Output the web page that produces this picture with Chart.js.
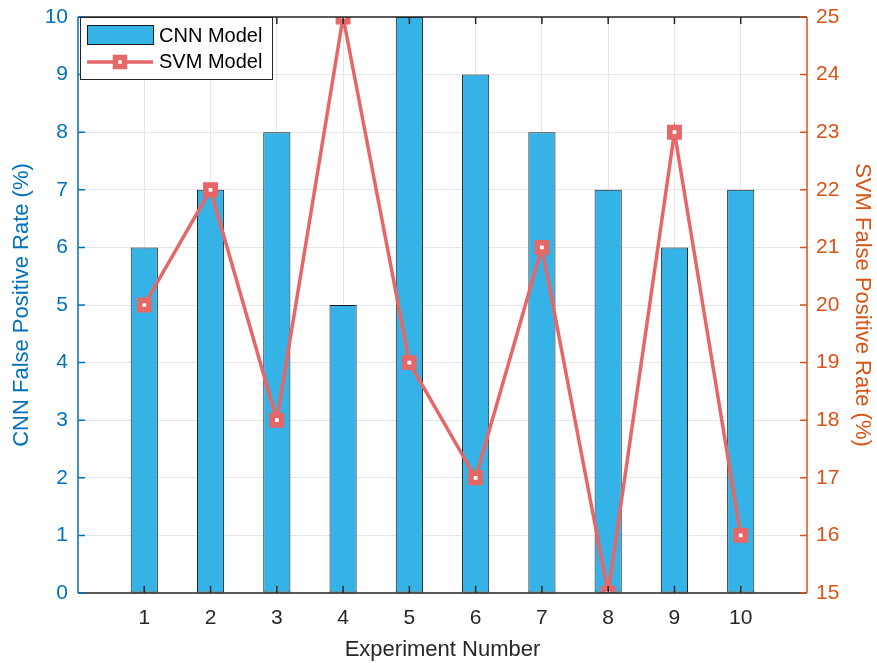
<!DOCTYPE html>
<html>
<head>
<meta charset="utf-8">
<script src="https://cdn.jsdelivr.net/npm/chart.js@4/dist/chart.umd.min.js"></script>
<style>
  html, body { margin: 0; padding: 0; background: #ffffff; }
  #wrap { width: 877px; height: 663px; }
</style>
</head>
<body>
<div id="wrap"><canvas id="c" width="877" height="663"></canvas></div>
<script>
const experiments = [1, 2, 3, 4, 5, 6, 7, 8, 9, 10];
const cnnRate = [6, 7, 8, 5, 10, 9, 8, 7, 6, 7];
const svmRate = [20, 22, 18, 25, 19, 17, 21, 15, 23, 16];
const leftTicks = [0, 1, 2, 3, 4, 5, 6, 7, 8, 9, 10];
const rightTicks = [15, 16, 17, 18, 19, 20, 21, 22, 23, 24, 25];

const BAR = '#35B3E6';
const LINE = '#E66767';
const LEFT = '#0072BD';
const RIGHT = '#D95319';
const DARK = '#262626';
const GRID = '#e4e6ea';
const FONT = '"Liberation Sans", Arial, Helvetica, sans-serif';

const framePlugin = {
  id: 'frame',
  afterDatasetsDraw(chart) {
    const { ctx, chartArea: a, scales } = chart;
    const t = 7;
    ctx.save();
    ctx.lineWidth = 1.5;
    ctx.strokeStyle = DARK;
    ctx.beginPath();
    ctx.moveTo(a.left, a.top); ctx.lineTo(a.right, a.top);
    ctx.moveTo(a.left, a.bottom); ctx.lineTo(a.right, a.bottom);
    experiments.forEach(v => {
      const x = scales.x.getPixelForValue(v);
      ctx.moveTo(x, a.bottom); ctx.lineTo(x, a.bottom - t);
      ctx.moveTo(x, a.top); ctx.lineTo(x, a.top + t);
    });
    ctx.stroke();
    ctx.strokeStyle = LEFT;
    ctx.beginPath();
    ctx.moveTo(a.left, a.top); ctx.lineTo(a.left, a.bottom);
    leftTicks.forEach(v => {
      const y = scales.y.getPixelForValue(v);
      ctx.moveTo(a.left, y); ctx.lineTo(a.left + t, y);
    });
    ctx.stroke();
    ctx.strokeStyle = RIGHT;
    ctx.beginPath();
    ctx.moveTo(a.right, a.top); ctx.lineTo(a.right, a.bottom);
    rightTicks.forEach(v => {
      const y = scales.y1.getPixelForValue(v);
      ctx.moveTo(a.right, y); ctx.lineTo(a.right - t, y);
    });
    ctx.stroke();

    // legend
    const lx = a.left + 2, ly = a.top, lw = 192, lh = 62;
    ctx.fillStyle = '#ffffff';
    ctx.fillRect(lx, ly, lw, lh);
    ctx.strokeStyle = DARK;
    ctx.lineWidth = 1;
    ctx.strokeRect(lx + 0.5, ly + 0.5, lw, lh);
    ctx.fillStyle = BAR;
    ctx.fillRect(lx + 7, ly + 8, 66, 19);
    ctx.strokeStyle = '#1a1a1a';
    ctx.strokeRect(lx + 7.5, ly + 8.5, 66, 19);
    const yl = ly + 45;
    ctx.strokeStyle = LINE;
    ctx.lineWidth = 3.5;
    ctx.beginPath();
    ctx.moveTo(lx + 7, yl); ctx.lineTo(lx + 73, yl);
    ctx.stroke();
    ctx.fillStyle = '#ffffff';
    ctx.lineWidth = 5.5;
    ctx.beginPath();
    ctx.rect(lx + 40 - 4.5, yl - 4.5, 9, 9);
    ctx.fill(); ctx.stroke();
    ctx.fillStyle = '#000000';
    ctx.font = '20px ' + FONT;
    ctx.textBaseline = 'middle';
    ctx.textAlign = 'left';
    ctx.fillText('CNN Model', lx + 79, ly + 19);
    ctx.fillText('SVM Model', lx + 79, yl);
    ctx.restore();
  }
};

new Chart(document.getElementById('c'), {
  type: 'bar',
  data: {
    datasets: [
      {
        type: 'line',
        label: 'SVM Model',
        data: experiments.map((x, i) => ({ x, y: svmRate[i] })),
        yAxisID: 'y1',
        borderColor: LINE,
        borderWidth: 3.5,
        pointStyle: 'rect',
        pointRadius: 6.6,
        pointBorderWidth: 5.6,
        pointBackgroundColor: '#ffffff',
        pointBorderColor: LINE,
        tension: 0,
        clip: 0,
        order: 0
      },
      {
        label: 'CNN Model',
        data: experiments.map((x, i) => ({ x, y: cnnRate[i] })),
        yAxisID: 'y',
        backgroundColor: BAR,
        borderColor: '#1a1a1a',
        borderWidth: 1,
        borderSkipped: false,
        barPercentage: 0.41,
        categoryPercentage: 1,
        clip: 0,
        order: 1
      }
    ]
  },
  options: {
    responsive: false,
    animation: false,
    layout: { padding: { top: 17, right: 0, left: 0, bottom: 0 } },
    plugins: { legend: { display: false }, tooltip: { enabled: false } },
    scales: {
      x: {
        type: 'linear',
        offset: false,
        min: 0, max: 11,
        afterFit(s) { s.height = 70; },
        border: { display: false },
        grid: {
          offset: false,
          drawTicks: false,
          color: ctx => (ctx.tick && ctx.tick.value >= 1 && ctx.tick.value <= 10) ? GRID : 'rgba(0,0,0,0)',
          lineWidth: 1
        },
        ticks: {
          stepSize: 1,
          autoSkip: false,
          maxRotation: 0,
          padding: 13,
          color: DARK,
          font: { family: FONT, size: 21 },
          callback: v => (v >= 1 && v <= 10) ? String(v) : ''
        },
        title: {
          display: true,
          text: 'Experiment Number',
          color: DARK,
          font: { family: FONT, size: 22 },
          padding: { top: 6, bottom: 0 }
        }
      },
      y: {
        position: 'left',
        min: 0, max: 10,
        afterFit(s) { s.width = 78; },
        border: { display: false },
        grid: { drawTicks: false, color: GRID, lineWidth: 1 },
        afterBuildTicks(s) { s.ticks = leftTicks.map(v => ({ value: v })); },
        ticks: {
          padding: 10,
          color: LEFT,
          font: { family: FONT, size: 21, lineHeight: 0.6 }
        },
        title: {
          display: true,
          text: 'CNN False Positive Rate (%)',
          color: LEFT,
          font: { family: FONT, size: 22 },
          padding: { top: 9, bottom: 6 }
        }
      },
      y1: {
        position: 'right',
        min: 15, max: 25,
        afterFit(s) { s.width = 70; },
        border: { display: false },
        grid: { drawOnChartArea: false, drawTicks: false },
        afterBuildTicks(s) { s.ticks = rightTicks.map(v => ({ value: v })); },
        ticks: {
          padding: 9,
          color: RIGHT,
          font: { family: FONT, size: 21, lineHeight: 0.6 }
        },
        title: {
          display: true,
          text: 'SVM False Positive Rate (%)',
          color: RIGHT,
          font: { family: FONT, size: 22 },
          padding: { top: 2, bottom: 6 }
        }
      }
    }
  },
  plugins: [framePlugin]
});
</script>
</body>
</html>
